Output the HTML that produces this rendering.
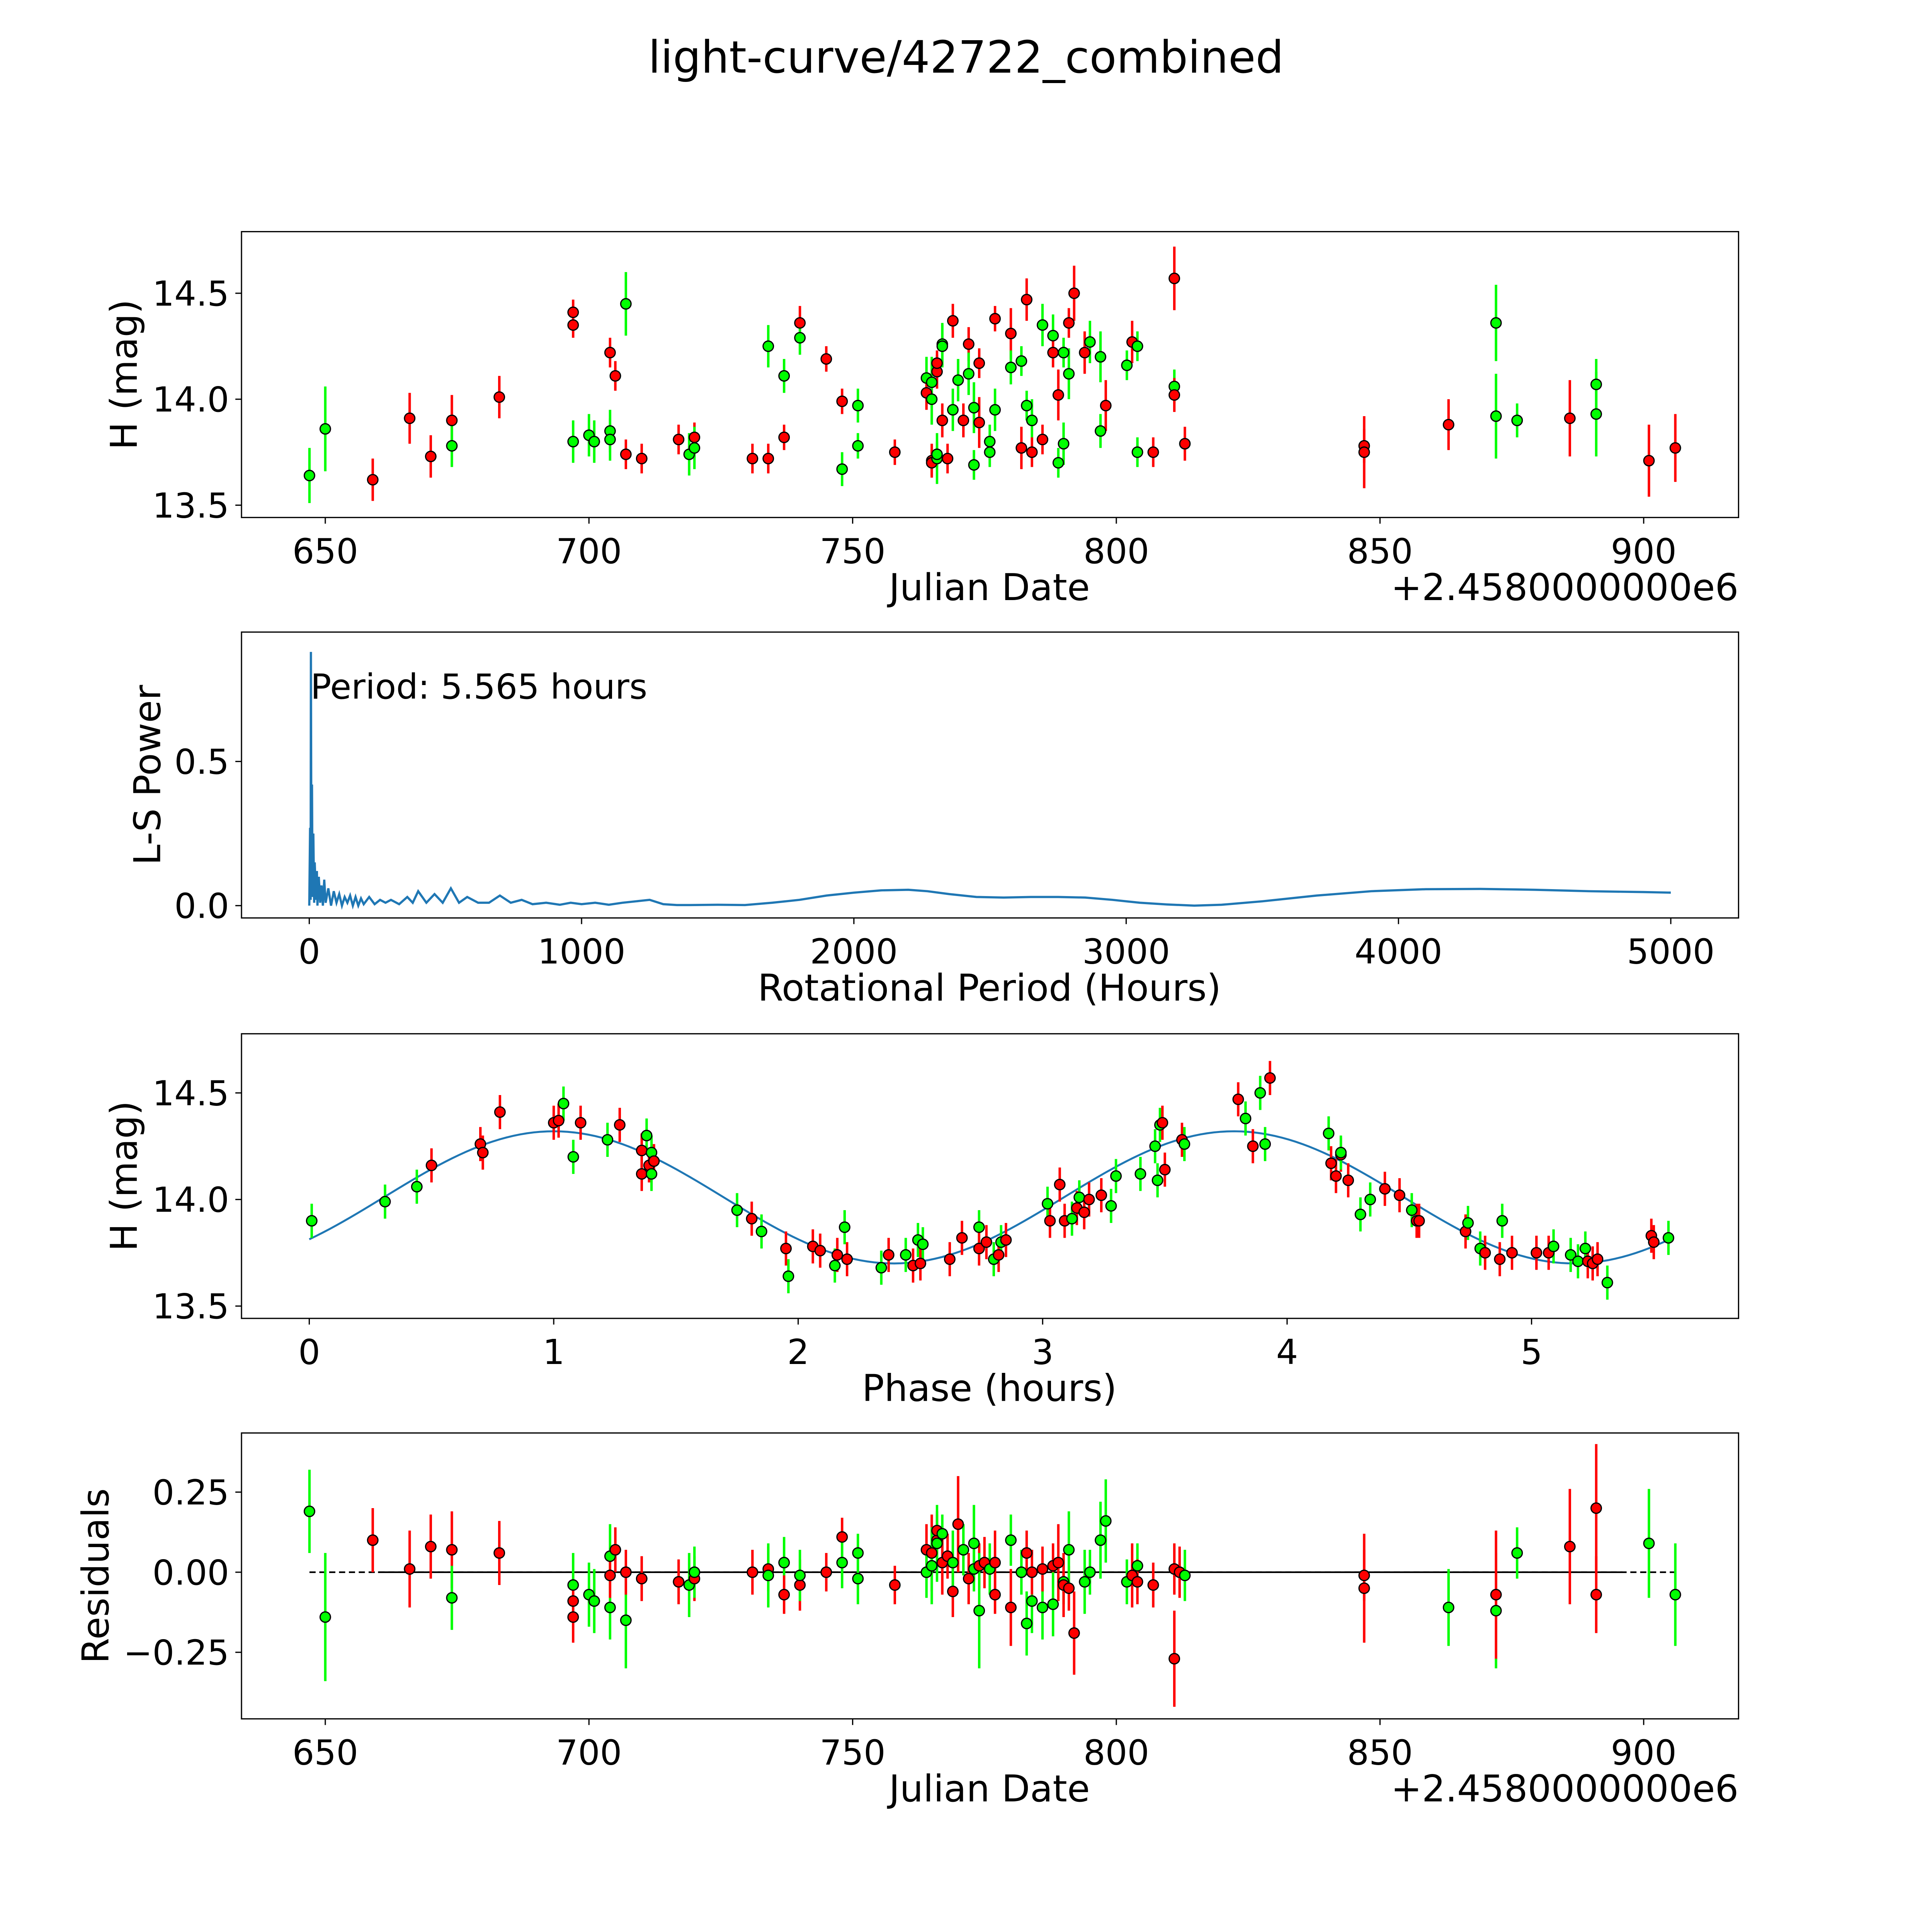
<!DOCTYPE html>
<html><head><meta charset="utf-8"><style>html,body{margin:0;padding:0;background:#fff;overflow:hidden;width:100vw;height:100vh}svg{display:block;width:100vw;height:100vh}</style></head>
<body>
<svg id="fig" xmlns="http://www.w3.org/2000/svg" viewBox="0 0 1568 1568" preserveAspectRatio="none" font-family="DejaVu Sans, Liberation Sans, sans-serif">
<rect width="1568" height="1568" fill="#fff"/>
<text x="784" y="59" font-size="36" text-anchor="middle">light-curve/42722_combined</text>
</svg>
<script>
// ---------- DATA ----------
const lcDates=[647,650,659,666,670,674,674,683,697,697,697,700,701,704,704,704,705,707,707,710,717,719,720,720,731,734,734,737,737,740,740,745,748,748,751,751,758,764,764,765,765,765,765,766,766,766,766,767,767,767,768,769,769,770,771,772,772,773,773,774,774,776,776,777,777,780,780,782,782,783,783,784,784,786,786,788,788,789,789,790,790,791,791,792,794,795,797,797,798,802,803,804,804,807,811,811,811,813,847,847,863,872,872,876,886,891,891,901,906];
const lcMags=[13.64,13.86,13.62,13.91,13.73,13.90,13.78,14.01,14.41,14.35,13.80,13.83,13.80,14.22,13.85,13.81,14.11,14.45,13.74,13.72,13.81,13.74,13.82,13.77,13.72,13.72,14.25,13.82,14.11,14.36,14.29,14.19,13.99,13.67,13.97,13.78,13.75,14.10,14.03,14.00,14.08,13.71,13.70,14.13,14.17,13.72,13.74,14.26,14.25,13.90,13.72,14.37,13.95,14.09,13.90,14.26,14.12,13.96,13.69,14.17,13.89,13.80,13.75,14.38,13.95,14.31,14.15,14.18,13.77,14.47,13.97,13.90,13.75,14.35,13.81,14.30,14.22,13.70,14.02,14.22,13.79,14.36,14.12,14.50,14.22,14.27,14.20,13.85,13.97,14.16,14.27,14.25,13.75,13.75,14.57,14.06,14.02,13.79,13.78,13.75,13.88,14.36,13.92,13.90,13.91,14.07,13.93,13.71,13.77];
const lcColors="ggrrrrgrrrgggrggrgrrrgrgrrgrgrgrrgggrgrggrrrrggggrrrggrrgggrrggrgrggrrggrgrgrgrggrgrrgggrgrggrrgrrrrrgggrggrrgrgrr";
const lcErrs=[0.13,0.2,0.1,0.12,0.1,0.12,0.1,0.1,0.06,0.06,0.1,0.1,0.1,0.07,0.1,0.1,0.07,0.15,0.07,0.07,0.07,0.1,0.07,0.1,0.07,0.07,0.1,0.06,0.08,0.08,0.08,0.06,0.06,0.08,0.08,0.06,0.06,0.1,0.08,0.12,0.12,0.08,0.06,0.08,0.06,0.12,0.06,0.1,0.1,0.08,0.07,0.08,0.1,0.1,0.08,0.08,0.1,0.12,0.07,0.07,0.12,0.08,0.07,0.06,0.1,0.12,0.08,0.07,0.1,0.1,0.07,0.1,0.07,0.1,0.07,0.1,0.07,0.07,0.12,0.07,0.1,0.07,0.12,0.13,0.1,0.1,0.12,0.08,0.12,0.07,0.1,0.07,0.07,0.07,0.15,0.08,0.08,0.08,0.08,0.17,0.12,0.18,0.2,0.08,0.18,0.12,0.2,0.17,0.16];

const lsPeriods=[0,3,5,6,8,10,12,15,18,20,25,28,30,35,40,45,50,55,60,70,80,90,100,110,120,130,140,150,160,170,180,190,200,220,240,260,280,300,330,360,380,400,430,460,490,520,550,580,620,660,700,740,780,820,870,920,960,1000,1050,1100,1150,1200,1250,1300,1350,1400,1500,1600,1700,1800,1900,2000,2100,2200,2270,2350,2450,2550,2650,2750,2850,2950,3050,3150,3250,3350,3500,3700,3900,4100,4300,4500,4700,4900,5000];
const lsPower=[0,0.27,0.02,0.88,0.05,0.42,0.03,0.25,0.01,0.15,0.02,0.12,0.0,0.10,0.01,0.07,0.0,0.09,0.01,0.06,0.0,0.05,0.01,0.04,0.0,0.03,0.01,0.035,0.0,0.03,0.0,0.025,0.005,0.03,0.005,0.02,0.01,0.02,0.005,0.03,0.01,0.05,0.01,0.04,0.01,0.06,0.01,0.03,0.01,0.01,0.035,0.01,0.02,0.005,0.01,0.003,0.01,0.005,0.01,0.003,0.01,0.015,0.02,0.005,0.002,0.002,0.003,0.002,0.01,0.02,0.035,0.045,0.053,0.055,0.05,0.04,0.03,0.028,0.03,0.03,0.028,0.02,0.01,0.004,0.0,0.003,0.015,0.035,0.05,0.057,0.058,0.055,0.05,0.047,0.045];
const periodLabel="Period: 5.565 hours";

const phPhase=[0.01,0.31,0.44,0.50,0.70,0.71,0.78,1.00,1.02,1.04,1.08,1.11,1.22,1.27,1.36,1.36,1.38,1.39,1.40,1.40,1.41,1.75,1.81,1.85,1.95,1.96,2.06,2.09,2.15,2.16,2.19,2.20,2.34,2.37,2.44,2.47,2.49,2.50,2.51,2.62,2.67,2.74,2.74,2.77,2.80,2.82,2.83,2.85,3.02,3.03,3.07,3.09,3.12,3.14,3.15,3.17,3.19,3.24,3.28,3.30,3.40,3.46,3.47,3.48,3.49,3.50,3.57,3.58,3.80,3.83,3.86,3.89,3.91,3.93,4.17,4.18,4.20,4.22,4.22,4.25,4.30,4.34,4.40,4.46,4.51,4.53,4.54,4.73,4.74,4.79,4.81,4.87,4.88,4.92,5.02,5.07,5.09,5.16,5.19,5.22,5.23,5.25,5.27,5.31,5.49,5.50,5.56];
const phMags=[13.90,13.99,14.06,14.16,14.26,14.22,14.41,14.36,14.37,14.45,14.20,14.36,14.28,14.35,14.12,14.23,14.30,14.16,14.12,14.22,14.18,13.95,13.91,13.85,13.77,13.64,13.78,13.76,13.69,13.74,13.87,13.72,13.68,13.74,13.74,13.69,13.81,13.70,13.79,13.72,13.82,13.87,13.77,13.80,13.72,13.74,13.80,13.81,13.98,13.90,14.07,13.90,13.91,13.96,14.01,13.94,14.00,14.02,13.97,14.11,14.12,14.25,14.09,14.35,14.36,14.14,14.28,14.26,14.47,14.38,14.25,14.50,14.26,14.57,14.31,14.17,14.11,14.21,14.22,14.09,13.93,14.00,14.05,14.02,13.95,13.90,13.90,13.85,13.89,13.77,13.75,13.72,13.90,13.75,13.75,13.75,13.78,13.74,13.71,13.77,13.71,13.70,13.72,13.61,13.83,13.80,13.82];
const phColors="gggrrrrrrggrgrrrgrggrgrgrgrrgrgrgrgrgrgrrgrrgrgrgrrrgrgrrrggggggrrrgrgrggrgrrrgrggrrgrrrggrrgrrrggggrrrgrrggr";
const phErrs=phMags.map(()=>0.08);
// fitted model: [mean, amplitude, period(h), peak phase(h)]
const modelParams=[14.01,0.31,2.7825,1.0];

const resDates=[647,650,659,666,670,674,674,683,697,697,697,700,701,704,704,704,705,707,707,710,717,719,720,720,731,734,734,737,737,740,740,745,748,748,751,751,758,764,764,765,765,766,766,766,767,767,768,769,769,770,771,772,773,773,774,774,775,776,777,777,780,780,782,783,783,784,784,786,786,788,788,789,790,790,791,791,792,794,795,797,798,802,803,804,804,807,811,811,812,813,847,847,863,872,872,876,886,891,891,901,906];
const resVals=[0.19,-0.14,0.10,0.01,0.08,0.07,-0.08,0.06,-0.04,-0.09,-0.14,-0.07,-0.09,-0.11,0.05,-0.01,0.07,-0.15,0.00,-0.02,-0.03,-0.04,-0.02,0.00,0.00,0.01,-0.01,0.03,-0.07,-0.04,-0.01,0.00,0.11,0.03,-0.02,0.06,-0.04,0.07,0.00,0.06,0.02,0.10,0.13,0.09,0.12,0.03,0.05,-0.06,0.03,0.15,0.07,-0.02,0.09,0.01,0.02,-0.12,0.03,0.01,0.03,-0.07,0.10,-0.11,0.00,0.06,-0.16,-0.09,0.00,-0.11,0.01,0.02,-0.10,0.03,-0.03,-0.04,-0.05,0.07,-0.19,-0.03,0.00,0.10,0.16,-0.03,-0.01,0.02,-0.03,-0.04,0.01,-0.27,0.00,-0.01,-0.01,-0.05,-0.11,-0.12,-0.07,0.06,0.08,-0.07,0.20,0.09,-0.07];
const resColors="ggrrrrgrgrrggggrrgrrrgrgrrggrrgrrgggrrgrgrrggrrrgrgrggrgrgrrgrgrggrgrrgrgrrgrgggggrgrrrrrgrrggrgrrrgggr";
const resErrs=[0.13,0.2,0.1,0.12,0.1,0.12,0.1,0.1,0.1,0.06,0.08,0.1,0.1,0.1,0.1,0.07,0.07,0.15,0.07,0.07,0.07,0.1,0.07,0.08,0.07,0.07,0.1,0.08,0.06,0.08,0.08,0.06,0.06,0.08,0.08,0.06,0.06,0.08,0.08,0.12,0.12,0.08,0.06,0.12,0.06,0.1,0.07,0.08,0.1,0.15,0.08,0.08,0.12,0.07,0.07,0.18,0.08,0.08,0.1,0.06,0.08,0.12,0.07,0.07,0.1,0.1,0.07,0.1,0.07,0.07,0.1,0.12,0.07,0.1,0.07,0.12,0.13,0.1,0.07,0.12,0.13,0.07,0.1,0.07,0.07,0.07,0.08,0.15,0.08,0.08,0.08,0.17,0.12,0.18,0.2,0.08,0.18,0.12,0.2,0.17,0.16];

const jdTicks=[650,700,750,800,850,900];
const magTicks=[13.5,14.0,14.5];
const lsXTicks=[0,1000,2000,3000,4000,5000];
const lsYTicks=[0.0,0.5];
const phXTicks=[0,1,2,3,4,5];
const resTicks=[-0.25,0.00,0.25];

// ---------- DRAWING ----------
const NS="http://www.w3.org/2000/svg";
const svg=document.getElementById('fig');
function mk(tag,attrs,parent){const e=document.createElementNS(NS,tag);for(const k in attrs)e.setAttribute(k,attrs[k]);(parent||svg).appendChild(e);return e;}
function lin(d0,d1,p0,p1){return v=>p0+(v-d0)*(p1-p0)/(d1-d0);}
const L=196,R=1411;
const jdX=lin(650,900,264,1334);

function axes(name,top,bot,xs,ys,xt,yt,xfmt,yfmt,xlabel,ylabel,ylabX){
  const g=mk('g',{});
  
  
  mk('rect',{x:L,y:top,width:R-L,height:bot-top,fill:'none',stroke:'#000','stroke-width':1},g);
  xt.forEach(t=>{const x=xs(t);mk('line',{x1:x,x2:x,y1:bot,y2:bot+5,stroke:'#000','stroke-width':1},g);
    const tx=mk('text',{x:x,y:bot+37,'font-size':28,'text-anchor':'middle'},g);tx.textContent=xfmt(t);
    });
  yt.forEach(t=>{const y=ys(t);mk('line',{x1:L-5,x2:L,y1:y,y2:y,stroke:'#000','stroke-width':1},g);
    const tx=mk('text',{x:L-10,y:y+10,'font-size':28,'text-anchor':'end'},g);tx.textContent=yfmt(t);
    });
  const xl=mk('text',{x:803,y:bot+67,'font-size':30,'text-anchor':'middle'},g);xl.textContent=xlabel;
  
  const cy=(top+bot)/2;
  const yl=mk('text',{x:ylabX,y:cy,'font-size':30,'text-anchor':'middle',transform:`rotate(-90 ${ylabX} ${cy})`},g);yl.textContent=ylabel;
  
  return g;
}
function points(g,xs,ys,X,Y,cols,errs){
  X.forEach((xv,i)=>{const c=cols[i]==='g'?'#00ff00':'#ff0000';const x=xs(xv);
    const l=mk('line',{x1:x,x2:x,y1:ys(Y[i]-errs[i]),y2:ys(Y[i]+errs[i]),stroke:c,'stroke-width':2},g);
    });
  X.forEach((xv,i)=>{const c=cols[i]==='g'?'#00ff00':'#ff0000';
    const p=mk('circle',{cx:xs(xv),cy:ys(Y[i]),r:4.2,fill:c,stroke:'#000','stroke-width':1},g);
    });
}
function offset(bot){const t=mk('text',{x:R,y:bot+67,'font-size':30,'text-anchor':'end'});t.textContent='+2.4580000000e6';
  }

// Panel 1
const y1=lin(13.5,14.5,410,238);
const g1=axes('light-curve-panel',188,420,jdX,y1,jdTicks,magTicks,t=>String(t),t=>t.toFixed(1),'Julian Date','H (mag)',111);
points(g1,jdX,y1,lcDates,lcMags,lcColors,lcErrs);
offset(420);

// Panel 2
const x2=lin(0,5000,251,1356),y2=lin(0,0.5,735,618);
const g2=axes('periodogram-panel',513,745,x2,y2,lsXTicks,lsYTicks,t=>String(t),t=>t.toFixed(1),'Rotational Period (Hours)','L-S Power',130);
const n2=Math.min(lsPeriods.length,lsPower.length);
let d2='';for(let i=0;i<n2;i++)d2+=(i?'L':'M')+x2(lsPeriods[i]).toFixed(2)+' '+y2(lsPower[i]).toFixed(2);
const pl=mk('path',{d:d2,fill:'none',stroke:'#1f77b4','stroke-width':1.8},g2);

const pt=mk('text',{x:252,y:567,'font-size':28},g2);pt.textContent=periodLabel;


// Panel 3
const x3=lin(0,5,251,1243),y3=lin(13.5,14.5,1060,887);
const g3=axes('phase-panel',839,1070,x3,y3,phXTicks,magTicks,t=>String(t),t=>t.toFixed(1),'Phase (hours)','H (mag)',111);
let d3='';const [mM,mA,mP,mPk]=modelParams;
for(let i=0;i<=200;i++){const t=5.565*i/200;const v=mM+mA*Math.cos(2*Math.PI*(t-mPk)/mP);d3+=(i?'L':'M')+x3(t).toFixed(2)+' '+y3(v).toFixed(2);}
const ml=mk('path',{d:d3,fill:'none',stroke:'#1f77b4','stroke-width':1.6},g3);

points(g3,x3,y3,phPhase,phMags,phColors,phErrs);

// Panel 4
const y4=lin(-0.25,0.25,1341,1211);
const g4=axes('residuals-panel',1163,1395,jdX,y4,jdTicks,resTicks,t=>String(t),t=>(t<0?'\u2212':'')+Math.abs(t).toFixed(2),'Julian Date','Residuals',88);
const z1=mk('line',{x1:jdX(647),x2:jdX(906),y1:y4(0),y2:y4(0),stroke:'#000','stroke-width':1.3,'stroke-dasharray':'5 3'},g4);

const z2=mk('line',{x1:jdX(660),x2:jdX(896),y1:y4(0),y2:y4(0),stroke:'#000','stroke-width':1.3},g4);

points(g4,jdX,y4,resDates,resVals,resColors,resErrs);
offset(1395);
</script>
</body></html>
